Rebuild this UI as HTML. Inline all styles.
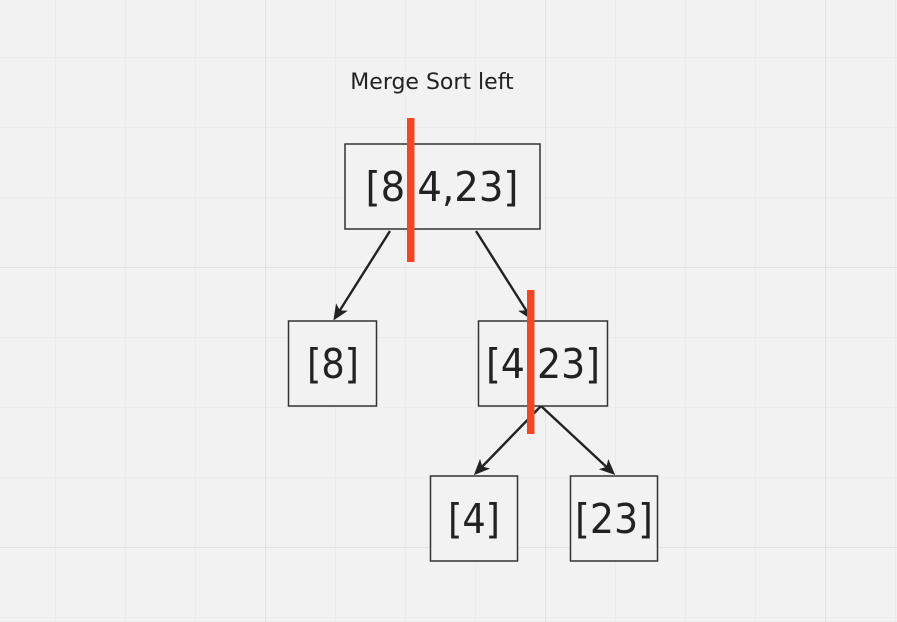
<!DOCTYPE html>
<html><head><meta charset="utf-8"><style>
body{margin:0;background:#f2f2f2;}
svg{display:block}
text{font-family:"DejaVu Sans","Liberation Sans",sans-serif;fill:#222}
</style></head><body>
<svg width="897" height="622">
<defs>
<pattern id="minor" x="55" y="57" width="70" height="70" patternUnits="userSpaceOnUse"><path d="M0 0V70M0 0H70" stroke="#e8e8e8" stroke-width="1.2" fill="none"/></pattern>
<pattern id="major" x="265" y="267" width="280" height="280" patternUnits="userSpaceOnUse"><path d="M0 0V280M0 0H280" stroke="#dddddd" stroke-width="1.5" fill="none"/></pattern>
<marker id="ah" markerWidth="16" markerHeight="14" refX="13" refY="7" orient="auto" markerUnits="userSpaceOnUse"><path d="M0 0L16 7L0 14L4 7Z" fill="#222"/></marker>
</defs>
<rect width="897" height="622" fill="url(#minor)"/>
<rect width="897" height="622" fill="url(#major)"/>
<text x="432" y="89" font-size="22" text-anchor="middle">Merge Sort left</text>
<g stroke="#222" stroke-width="2.4" fill="none">
<line x1="390" y1="231" x2="335" y2="318" marker-end="url(#ah)"/>
<line x1="476" y1="231" x2="531" y2="318" marker-end="url(#ah)"/>
<line x1="541" y1="406" x2="476" y2="473" marker-end="url(#ah)"/>
<line x1="541" y1="406" x2="613" y2="473" marker-end="url(#ah)"/>
</g>
<g fill="#f2f2f2" stroke="#333" stroke-width="1.5">
<rect x="345" y="144" width="195" height="85"/>
<rect x="288.5" y="321" width="88" height="85"/>
<rect x="478.5" y="321" width="129" height="85"/>
<rect x="430.5" y="476" width="87" height="85"/>
<rect x="570.5" y="476" width="87" height="85"/>
</g>
<g font-size="41" text-anchor="middle">
<text x="442" y="201" textLength="153" lengthAdjust="spacingAndGlyphs">[8,4,23]</text>
<text x="333" y="378" textLength="52" lengthAdjust="spacingAndGlyphs">[8]</text>
<text x="543" y="378" textLength="114" lengthAdjust="spacingAndGlyphs">[4,23]</text>
<text x="474" y="533" textLength="52" lengthAdjust="spacingAndGlyphs">[4]</text>
<text x="614" y="533" textLength="78" lengthAdjust="spacingAndGlyphs">[23]</text>
</g>
<rect x="407" y="118" width="7.5" height="144" fill="#f24726"/>
<rect x="527" y="290" width="7.5" height="144" fill="#f24726"/>
</svg>
</body></html>
